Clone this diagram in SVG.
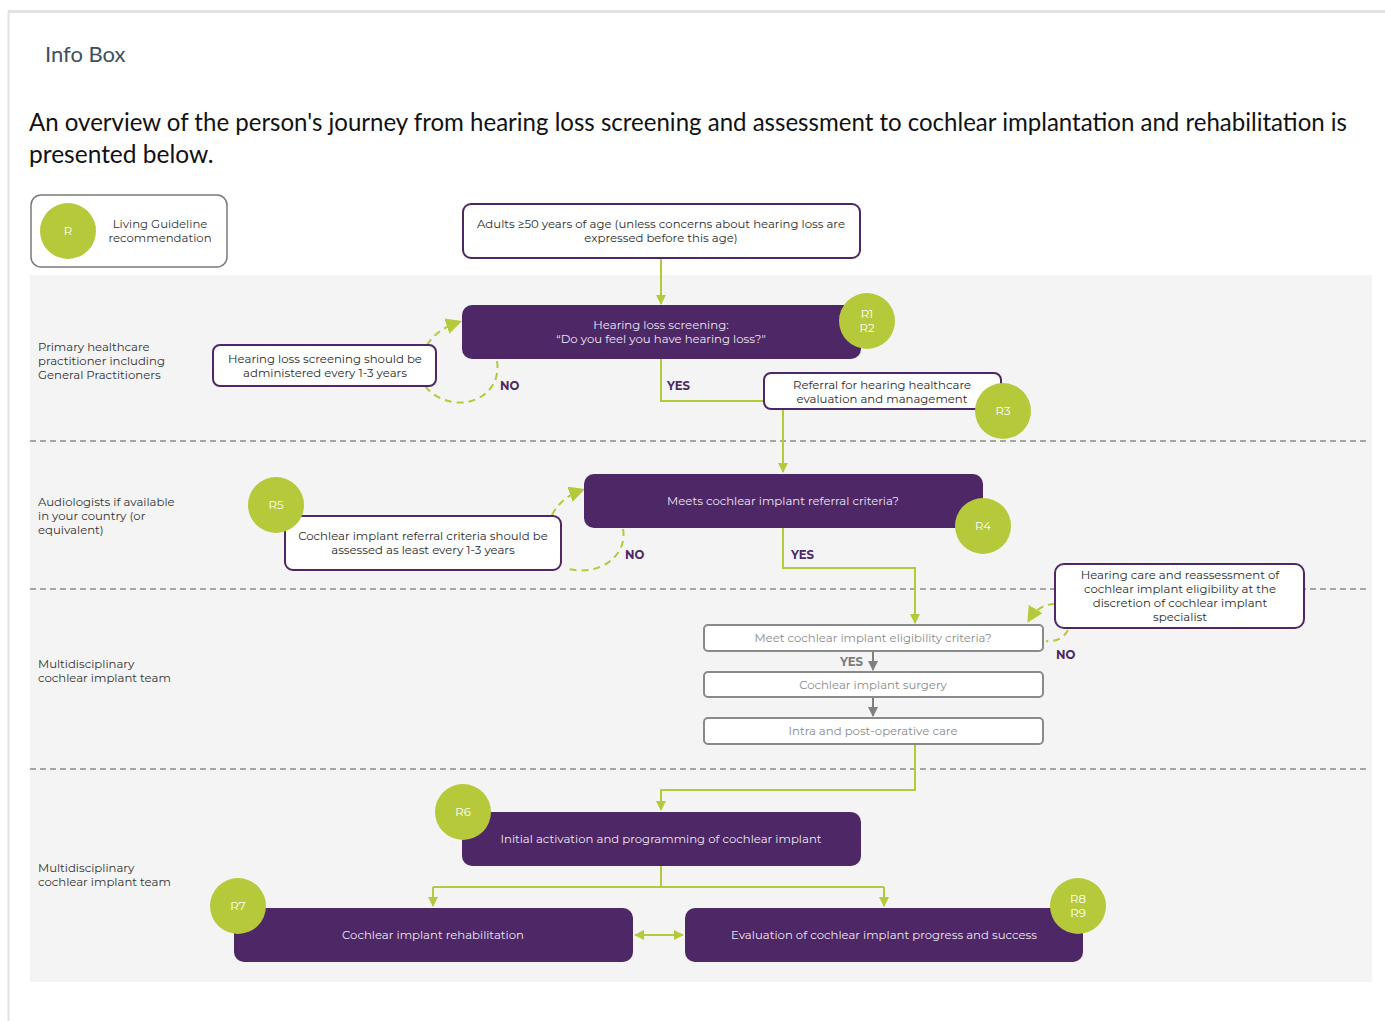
<svg xmlns="http://www.w3.org/2000/svg" width="1385" height="1021" viewBox="0 0 1385 1021">
  <style>
    .page { font-family: "Lato", "Liberation Sans", sans-serif; }
    .lbl { font-family: "Montserrat", "Noto Sans", "Open Sans", sans-serif; font-size: 11.7px; }
    .dark { fill: #333333; }
    .lane { fill: #333333; }
    .onpurple { fill: #ece6f1; text-anchor: middle; }
    .onwhite { fill: #2b2b2b; text-anchor: middle; }
    .ongray { fill: #8a8a8a; text-anchor: middle; }
    .badge { fill: #ffffff; text-anchor: middle; }
    .yn { font-weight: bold; fill: #4e2766; }
    .proc { fill: #4e2766; }
    .note { fill: #ffffff; stroke: #4e2766; stroke-width: 2; }
    .step { fill: #ffffff; stroke: #8a8a8a; stroke-width: 2; }
    .rec { fill: #b5c93a; }
    .flow { fill: none; stroke: #b5c93a; stroke-width: 2; }
    .loop { fill: none; stroke: #b5c93a; stroke-width: 2; stroke-dasharray: 7 5; }
    .gflow { fill: none; stroke: #808080; stroke-width: 2; }
    .sep { stroke: #8c8c8c; stroke-width: 1.3; stroke-dasharray: 6 4; }
  </style>
  <defs>
    <marker id="ah" viewBox="0 0 10 10" refX="9" refY="5" markerWidth="5" markerHeight="5" orient="auto-start-reverse">
      <path d="M0,0 L10,5 L0,10 z" fill="#b5c93a"/>
    </marker>
    <marker id="ahg" viewBox="0 0 10 10" refX="9" refY="5" markerWidth="5" markerHeight="5" orient="auto">
      <path d="M0,0 L10,5 L0,10 z" fill="#808080"/>
    </marker>
    <marker id="ahl" viewBox="0 0 10 10" refX="8" refY="5" markerWidth="8" markerHeight="8" orient="auto">
      <path d="M0,0 L10,5 L0,10 z" fill="#b5c93a"/>
    </marker>
  </defs>

  <!-- page frame -->
  <rect width="1385" height="1021" fill="#ffffff"/>
  <line x1="8" y1="11.5" x2="1385" y2="11.5" stroke="#e2e2e2" stroke-width="3"/>
  <line x1="8.5" y1="11" x2="8.5" y2="1021" stroke="#e2e2e2" stroke-width="2"/>

  <text class="page" x="45" y="62" font-size="22" fill="#3c4f63">Info Box</text>
  <text class="page" x="29" y="131" font-size="24.5" fill="#111111" textLength="1318" lengthAdjust="spacingAndGlyphs">An overview of the person's journey from hearing loss screening and assessment to cochlear implantation and rehabilitation is</text>
  <text class="page" x="29" y="163" font-size="24.5" fill="#111111">presented below.</text>

  <!-- legend -->
  <g id="legend">
    <rect x="31" y="195" width="196" height="72" rx="10" fill="#ffffff" stroke="#7a7a7a" stroke-width="1.5"/>
    <circle class="rec" cx="68" cy="231" r="28"/>
    <text class="lbl badge" x="68" y="235" font-size="11">R</text>
    <text class="lbl dark" x="160" y="228" text-anchor="middle">Living Guideline</text>
    <text class="lbl dark" x="160" y="242" text-anchor="middle">recommendation</text>
  </g>

  <!-- swimlane background -->
  <rect x="30" y="275" width="1342" height="707" fill="#f4f4f4"/>
  <g id="lanes">
    <line class="sep" x1="30" y1="441" x2="1370" y2="441"/>
    <line class="sep" x1="30" y1="589" x2="1370" y2="589"/>
    <line class="sep" x1="30" y1="769" x2="1370" y2="769"/>
    <text class="lbl lane" x="38" y="351">Primary healthcare</text>
    <text class="lbl lane" x="38" y="365">practitioner including</text>
    <text class="lbl lane" x="38" y="379">General Practitioners</text>
    <text class="lbl lane" x="38" y="506">Audiologists if available</text>
    <text class="lbl lane" x="38" y="520">in your country (or</text>
    <text class="lbl lane" x="38" y="534">equivalent)</text>
    <text class="lbl lane" x="38" y="668">Multidisciplinary</text>
    <text class="lbl lane" x="38" y="682">cochlear implant team</text>
    <text class="lbl lane" x="38" y="872">Multidisciplinary</text>
    <text class="lbl lane" x="38" y="886">cochlear implant team</text>
  </g>

  <!-- connectors -->
  <g id="connectors">
    <path class="flow" d="M661,258 V304" marker-end="url(#ah)"/>
    <path class="flow" d="M661,359 V401 H764"/>
    <path class="flow" d="M783,409 V472" marker-end="url(#ah)"/>
    <path class="flow" d="M783,528 V568 H915 V623" marker-end="url(#ah)"/>
    <path class="gflow" d="M873,651 V670" marker-end="url(#ahg)"/>
    <path class="gflow" d="M873,697 V716" marker-end="url(#ahg)"/>
    <path class="flow" d="M915,744 V790 H661 V810" marker-end="url(#ah)"/>
    <path class="flow" d="M661,866 V887 M433,887 H884"/>
    <path class="flow" d="M433,887 V906" marker-end="url(#ah)"/>
    <path class="flow" d="M884,887 V906" marker-end="url(#ah)"/>
    <path class="flow" d="M635,935 H683" marker-start="url(#ah)" marker-end="url(#ah)"/>

    <!-- NO loops (dashed) -->
    <path class="loop" d="M497,361 C502,392 470,412 440,398 C432,394 428,390 425,386"/>
    <path class="loop" d="M427,345 C434,334 444,327 459,322" marker-end="url(#ahl)"/>
    <path class="loop" d="M623,529 C628,555 600,578 565,568"/>
    <path class="loop" d="M552,515 C558,503 568,495 582,490" marker-end="url(#ahl)"/>
    <path class="loop" d="M1055,604 C1044,604 1035,610 1029,620" marker-end="url(#ahl)"/>
    <path class="loop" d="M1068,630 C1064,638 1056,642 1046,641"/>

    <text class="lbl yn" x="500" y="390">NO</text>
    <text class="lbl yn" x="667" y="390">YES</text>
    <text class="lbl yn" x="625" y="559">NO</text>
    <text class="lbl yn" x="791" y="559">YES</text>
    <text class="lbl yn" x="1056" y="659">NO</text>
    <text class="lbl" x="840" y="666" font-weight="bold" fill="#7a7a7a">YES</text>
  </g>

  <g id="n-adults">
    <rect class="note" x="463" y="204" width="397" height="54" rx="8"/>
    <text class="lbl onwhite" x="661" y="228">Adults ≥50 years of age (unless concerns about hearing loss are</text>
    <text class="lbl onwhite" x="661" y="242">expressed before this age)</text>
  </g>

  <g id="n-screening">
    <rect class="proc" x="462" y="305" width="399" height="54" rx="10"/>
    <text class="lbl onpurple" x="661" y="329">Hearing loss screening:</text>
    <text class="lbl onpurple" x="661" y="343">“Do you feel you have hearing loss?"</text>
    <circle class="rec" cx="867" cy="321" r="28"/>
    <text class="lbl badge" x="867" y="318">R1</text>
    <text class="lbl badge" x="867" y="332">R2</text>
  </g>

  <g id="n-screen-interval">
    <rect class="note" x="213" y="345" width="223" height="41" rx="7"/>
    <text class="lbl onwhite" x="325" y="363">Hearing loss screening should be</text>
    <text class="lbl onwhite" x="325" y="377">administered every 1-3 years</text>
  </g>

  <g id="n-referral">
    <rect class="note" x="764" y="373" width="237" height="36" rx="7"/>
    <text class="lbl onwhite" x="882" y="389">Referral for hearing healthcare</text>
    <text class="lbl onwhite" x="882" y="403">evaluation and management</text>
    <circle class="rec" cx="1003" cy="411" r="28"/>
    <text class="lbl badge" x="1003" y="415">R3</text>
  </g>

  <g id="n-meets">
    <rect class="proc" x="584" y="474" width="399" height="54" rx="10"/>
    <text class="lbl onpurple" x="783" y="505">Meets cochlear implant referral criteria?</text>
    <circle class="rec" cx="983" cy="526" r="28"/>
    <text class="lbl badge" x="983" y="530">R4</text>
  </g>

  <g id="n-referral-interval">
    <rect class="note" x="285" y="516" width="276" height="54" rx="8"/>
    <text class="lbl onwhite" x="423" y="540">Cochlear implant referral criteria should be</text>
    <text class="lbl onwhite" x="423" y="554">assessed as least every 1-3 years</text>
    <circle class="rec" cx="276" cy="505" r="28"/>
    <text class="lbl badge" x="276" y="509">R5</text>
  </g>

  <g id="n-reassess">
    <rect class="note" x="1055" y="564" width="249" height="64" rx="9"/>
    <text class="lbl onwhite" x="1180" y="579">Hearing care and reassessment of</text>
    <text class="lbl onwhite" x="1180" y="593">cochlear implant eligibility at the</text>
    <text class="lbl onwhite" x="1180" y="607">discretion of cochlear implant</text>
    <text class="lbl onwhite" x="1180" y="621">specialist</text>
  </g>

  <g id="n-eligibility">
    <rect class="step" x="704" y="625" width="339" height="26" rx="4"/>
    <text class="lbl ongray" x="873" y="642">Meet cochlear implant eligibility criteria?</text>
  </g>

  <g id="n-surgery">
    <rect class="step" x="704" y="672" width="339" height="25" rx="4"/>
    <text class="lbl ongray" x="873" y="689">Cochlear implant surgery</text>
  </g>

  <g id="n-periop">
    <rect class="step" x="704" y="718" width="339" height="26" rx="4"/>
    <text class="lbl ongray" x="873" y="735">Intra and post-operative care</text>
  </g>

  <g id="n-activation">
    <rect class="proc" x="462" y="812" width="399" height="54" rx="10"/>
    <text class="lbl onpurple" x="661" y="843">Initial activation and programming of cochlear implant</text>
    <circle class="rec" cx="463" cy="812" r="28"/>
    <text class="lbl badge" x="463" y="816">R6</text>
  </g>

  <g id="n-rehab">
    <rect class="proc" x="234" y="908" width="399" height="54" rx="10"/>
    <text class="lbl onpurple" x="433" y="939">Cochlear implant rehabilitation</text>
    <circle class="rec" cx="238" cy="906" r="28"/>
    <text class="lbl badge" x="238" y="910">R7</text>
  </g>

  <g id="n-evaluation">
    <rect class="proc" x="685" y="908" width="398" height="54" rx="10"/>
    <text class="lbl onpurple" x="884" y="939">Evaluation of cochlear implant progress and success</text>
    <circle class="rec" cx="1078" cy="906" r="28"/>
    <text class="lbl badge" x="1078" y="903">R8</text>
    <text class="lbl badge" x="1078" y="917">R9</text>
  </g>
</svg>
